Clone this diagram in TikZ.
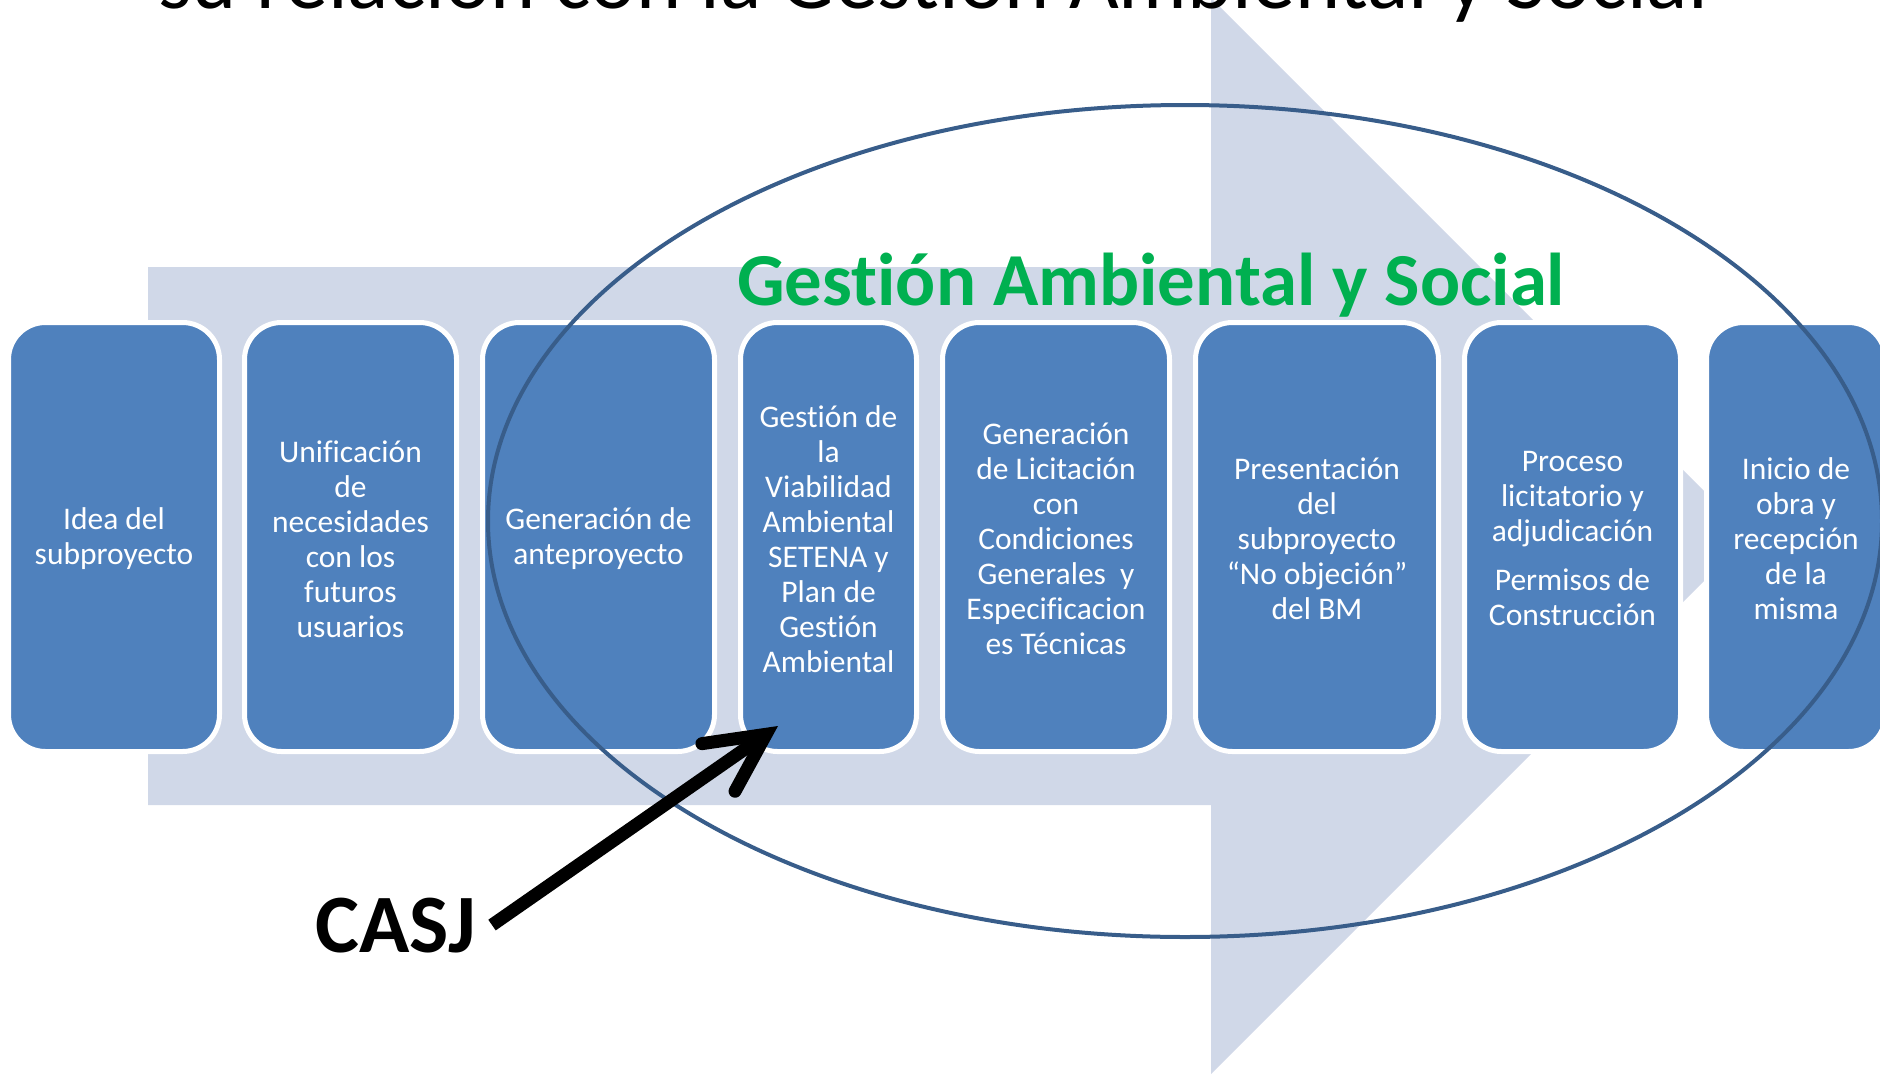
\documentclass[tikz,border=0pt]{standalone}
\usepackage{fontspec}
\setmainfont{Carlito}[Ligatures=NoCommon]
\usetikzlibrary{arrows.meta}
\definecolor{boxblue}{HTML}{4F81BD}
\definecolor{lightarr}{HTML}{D0D8E8}
\definecolor{ringblue}{HTML}{385D8A}
\definecolor{gasgreen}{HTML}{00B050}
\begin{document}
\begin{tikzpicture}[x=1pt,y=-1pt,
  stepbox/.style={draw=white, line width=5pt, fill=boxblue, rounded corners=37pt,
    minimum height=429pt, inner sep=0pt},
  boxtxt/.style={text=white, align=center, inner sep=0pt,
    font=\fontsize{31.5}{35}\selectfont},
  bigtxt/.style={anchor=base west, inner sep=0pt}]
\useasboundingbox (0,0) rectangle (1880,1074);
% background process arrow
\fill[lightarr] (148,267) -- (1211,267) -- (1211,-2) -- (1749,536) -- (1211,1074)
  -- (1211,805) -- (148,805) -- cycle;
% boxes
\node[stepbox, minimum width=211pt] (b1) at (114,537) {};
\node[stepbox, minimum width=212pt] (b2) at (350.5,537) {};
\node[stepbox, minimum width=232pt] (b3) at (598.5,537) {};
\node[stepbox, minimum width=176pt] (b4) at (828.5,537) {};
\node[stepbox, minimum width=227pt] (b5) at (1056,537) {};
\node[stepbox, minimum width=243pt] (b6) at (1317,537) {};
\node[stepbox, minimum width=216pt] (b7) at (1572.5,537) {};
\node[stepbox, minimum width=179pt] (b8) at (1796,537) {};
% box texts
\node[boxtxt] (t1) at ([yshift=-2pt]b1.center) {Idea del\\subproyecto};
\node[boxtxt] (t2) at ([yshift=-2pt]b2.center) {Unificación\\de\\necesidades\\con los\\futuros\\usuarios};
\node[boxtxt] (t3) at ([yshift=-2pt]b3.center) {Generación de\\anteproyecto};
\node[boxtxt] (t4) at ([yshift=-2pt]b4.center) {Gestión de\\la\\Viabilidad\\Ambiental\\SETENA y\\Plan de\\Gestión\\Ambiental};
\node[boxtxt] (t5) at ([yshift=-2pt]b5.center) {Generación\\de Licitación\\con\\Condiciones\\Generales~~y\\Especificacion\\es Técnicas};
\node[boxtxt] (t6) at ([yshift=-2pt]b6.center) {Presentación\\del\\subproyecto\\“No objeción”\\del BM};
\node[boxtxt] (t7) at ([yshift=-2pt]b7.center) {Proceso\\licitatorio y\\adjudicación\\[14pt]Permisos de\\Construcción};
\node[boxtxt] (t8) at ([yshift=-2pt]b8.center) {Inicio de\\obra y\\recepción\\de la\\misma};
% ellipse
\draw[ringblue, line width=4pt] (1185,521) ellipse [x radius=697, y radius=416];
% texts
\node[bigtxt, text=gasgreen, font=\bfseries\fontsize{74.8}{82}\selectfont] (gas) at (737,305) {Gestión Ambiental y Social};
\node[bigtxt, font=\fontsize{86}{100}\selectfont] (title) at (158,8) {su relación con la Gestión Ambiental y Social};
\node[bigtxt, font=\bfseries\fontsize{83}{92}\selectfont] (casj) at (315,952) {CASJ};
% arrow
\coordinate (tip) at (778,726);
\draw[line width=13pt, -{Straight Barb[length=58pt, width=58pt, line cap=round, line join=miter]}]
  ([xshift=16pt]casj.east) -- (tip);
\end{tikzpicture}
\end{document}
